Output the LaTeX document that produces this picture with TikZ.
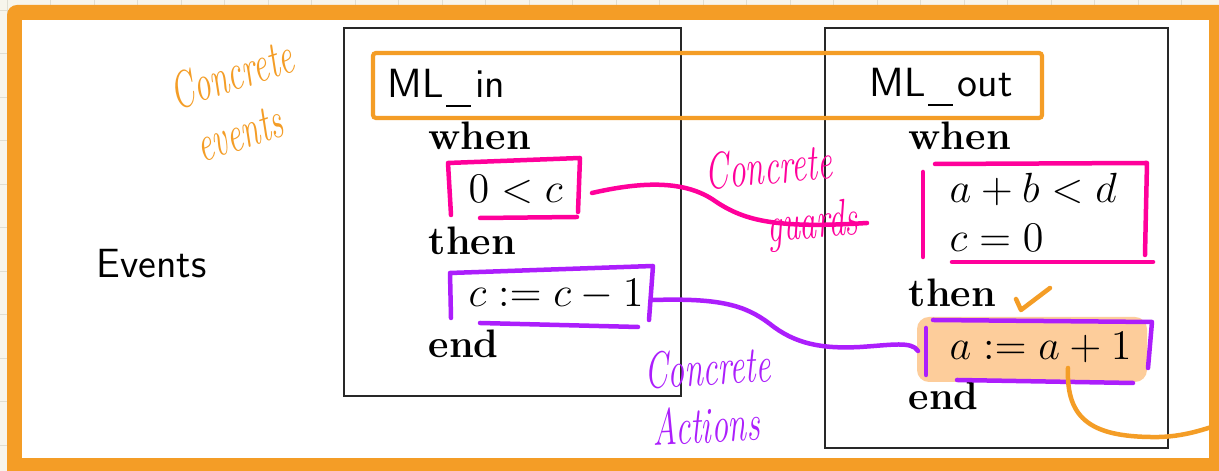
\documentclass[tikz,border=0pt]{standalone}
\definecolor{frameOr}{RGB}{244,157,38}
\definecolor{guardPk}{RGB}{255,0,155}
\definecolor{actPu}{RGB}{172,30,252}
\definecolor{peach}{RGB}{253,205,155}
\definecolor{cream}{RGB}{247,245,236}
\definecolor{gridc}{RGB}{224,222,210}
\definecolor{boxline}{RGB}{40,40,40}
% thin underscore as it appears in the event names
\newcommand{\evus}{\kern0.6pt\rule[-2.5pt]{7.1pt}{0.55pt}\kern1.3pt}
\newcommand{\hw}[1]{\scalebox{0.68}[1.05]{#1}}
\tikzset{
  hand/.style={line width=0.45mm, line cap=round, line join=round},
  kw/.style={font=\fontsize{11.3}{13}\selectfont\bfseries, anchor=base west, inner sep=0},
  mtxt/.style={font=\fontsize{11.5}{13}\selectfont, anchor=base west, inner sep=0},
  stxt/.style={font=\fontsize{11.6}{13}\selectfont\sffamily, anchor=base west, inner sep=0},
  note/.style={font=\fontsize{14}{16.5}\selectfont\itshape, inner sep=0, align=left},
  evbox/.style={draw=boxline, line width=0.16mm},
}
\begin{document}
\begin{tikzpicture}[x=0.1mm, y=-0.1mm]
\useasboundingbox (0,0) rectangle (1219,471);
\clip (0,0) rectangle (1219,471);
% notebook paper behind the slide
\fill[cream] (0,0) rectangle (1219,471);
\foreach \gx in {7,50.5,...,1219} \draw[gridc, line width=0.1mm] (\gx,0) -- (\gx,471);
\foreach \gy in {10.5,54,...,471} \draw[gridc, line width=0.1mm] (0,\gy) -- (1219,\gy);
% orange frame and white slide
\fill[frameOr, rounded corners=1mm] (7,5) rectangle (1240,490);
\fill[white] (22,20) rectangle (1209,458);

% event boxes
\draw[evbox] (344,28) rectangle (681,396);
\draw[evbox] (825,28) rectangle (1168,448);

% highlight behind the concrete action
\fill[peach, rounded corners=1.2mm] (917,317) rectangle (1147,382);

% texts
\node[stxt] (events) at (96,278) {Events};
\node[stxt] (mlin) at (387,98) {ML\evus in};
\node[stxt] (mlout) at (869,97) {ML\evus out};

\node[kw] (w1) at (428,150) {when};
\node[mtxt] (g1) at (468,203) {$0<c$};
\node[kw] (t1) at (428,255) {then};
\node[mtxt] (a1) at (468,307) {$c:=c-1$};
\node[kw] (e1) at (428,358) {end};

\node[kw] (w2) at (908,150) {when};
\node[mtxt] (g2a) at (949,203) {$a+b<d$};
\node[mtxt] (g2b) at (949,252) {$c=0$};
\node[kw] (t2) at (908,307) {then};
\node[mtxt] (a2) at (949,360) {$a:=a+1$};
\node[kw] (e2) at (908,410) {end};

% orange box round the event names
\draw[frameOr, line width=0.42mm, rounded corners=0.3mm] (373,53) rectangle (1042,118);

% hand-drawn guard boxes
\draw[guardPk, hand] (451,215) -- (448,163) -- (580,158) -- (578,212);
\draw[guardPk, hand] (480,218) -- (577,217);
\draw[guardPk, hand] (923,172) -- (923,257);
\draw[guardPk, hand] (935,164) -- (1147,163) -- (1145,255);
\draw[guardPk, hand] (952,262) -- (1153,262);

% hand-drawn action boxes
\draw[actPu, hand] (451,318) -- (450,273) -- (653,266) -- (649,320);
\draw[actPu, hand] (480,323) -- (638,327);
\draw[actPu, hand] (926,328) -- (926,375);
\draw[actPu, hand] (933,320) -- (1152,322) -- (1148,368);
\draw[actPu, hand] (957,380) -- (1133,383);

% annotations
\node[note, text=frameOr, rotate=18] (cev) at (240,101)
  {\hw{Concrete}\\\hspace*{2.5pt}\hw{events}};
\node[note, text=guardPk, rotate=5] (cgd) at (782,199)
  {\hw{Concrete}\\\hspace*{16pt}\hw{guards}};
\node[note, text=actPu, rotate=3] (cac) at (709,396)
  {\hw{Concrete}\\\hspace*{1.5pt}\hw{Actions}};

% connectors
\coordinate (g1r) at (592,193);
\coordinate (cgu) at (867,223);
\draw[guardPk, hand] (g1r) .. controls (640,182) and (682,180) .. (712,199)
  .. controls (742,220) and (772,229) .. (cgu);
\coordinate (a1r) at (653,300);
\coordinate (a2l) at (918,351);
\draw[actPu, hand] (a1r) .. controls (720,298) and (745,305) .. (770,324)
  .. controls (795,344) and (822,349) .. (860,347)
  .. controls (892,345) and (912,341) .. (a2l);
\coordinate (a2b) at (1068,368);
\coordinate (offr) at (1230,421);
\draw[frameOr, hand] (a2b) .. controls (1066,420) and (1092,438) .. (1160,437)
  .. controls (1188,436) and (1208,428) .. (offr);
% tick next to "then"
\coordinate (tk1) at (1016,299);
\coordinate (tk2) at (1050,288);
\draw[frameOr, hand] (tk1) -- (1021,310) -- (tk2);
\end{tikzpicture}
\end{document}
